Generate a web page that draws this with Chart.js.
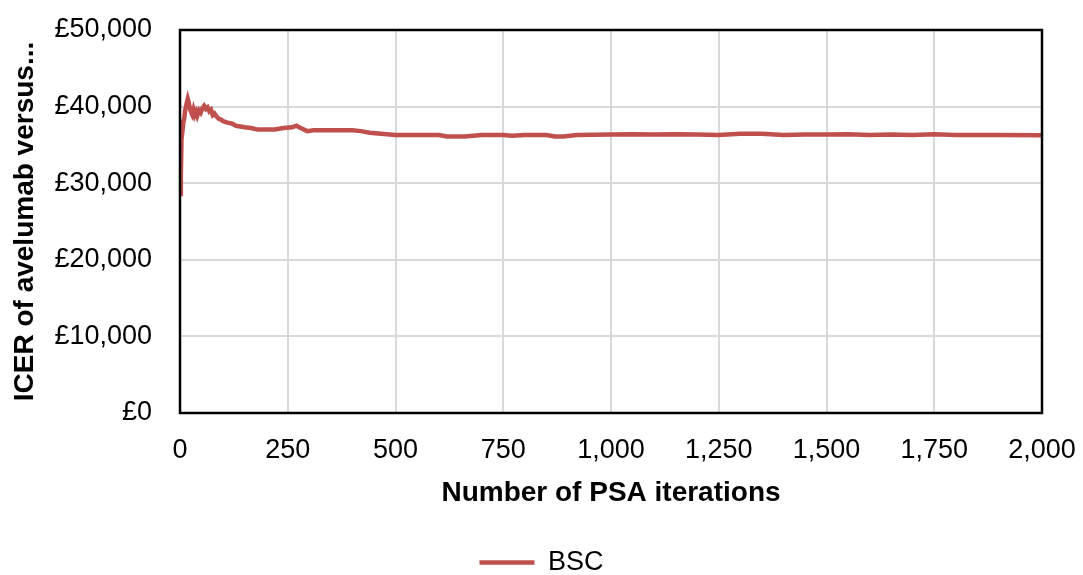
<!DOCTYPE html>
<html>
<head>
<meta charset="utf-8">
<script src="https://cdn.jsdelivr.net/npm/chart.js@4.4.0/dist/chart.umd.min.js"></script>
<style>
  html, body { margin: 0; padding: 0; background: #fff; }
  canvas { display: block; }
</style>
</head>
<body>
<canvas id="c" width="1083" height="575"></canvas>
<script>
// Data
const iterations = [1, 2, 4, 6, 8, 10, 12, 15, 18, 20, 22, 25, 28, 31, 34, 37, 40, 44, 48, 52, 56, 60, 64, 68, 72, 76, 80, 85, 90, 95, 100, 110, 120, 130, 140, 150, 165, 180, 200, 220, 240, 260, 270, 280, 295, 310, 340, 370, 400, 420, 440, 460, 480, 500, 550, 600, 620, 660, 680, 700, 750, 770, 800, 850, 870, 890, 920, 1000, 1050, 1100, 1150, 1200, 1250, 1300, 1350, 1400, 1450, 1500, 1550, 1600, 1650, 1700, 1750, 1800, 1900, 2000];
const icerBSC = [28600, 31000, 37300, 37000, 38000, 38500, 39500, 40300, 41000, 40600, 40000, 39400, 39000, 39600, 38900, 39300, 38800, 39500, 39200, 39800, 40100, 39700, 39900, 39400, 39600, 38900, 39100, 38700, 38400, 38300, 38100, 37900, 37800, 37500, 37400, 37300, 37200, 37000, 37000, 37000, 37200, 37300, 37500, 37200, 36800, 36900, 36900, 36900, 36900, 36800, 36600, 36500, 36400, 36300, 36300, 36300, 36100, 36100, 36200, 36300, 36300, 36200, 36300, 36300, 36100, 36100, 36300, 36350, 36400, 36350, 36400, 36350, 36300, 36450, 36450, 36300, 36350, 36350, 36400, 36300, 36350, 36300, 36400, 36300, 36300, 36250];
const seriesName = 'BSC';
const xTicks = [0, 250, 500, 750, 1000, 1250, 1500, 1750, 2000];
const yTicks = [0, 10000, 20000, 30000, 40000, 50000];
const xTitle = 'Number of PSA iterations';
const yTitle = 'ICER of avelumab versus...';

const FONT = "'Liberation Sans', Arial, sans-serif";
const RED = '#C0504D';

const frame = {
  id: 'frame',
  afterDatasetsDraw(chart) {
    const a = chart.chartArea, ctx = chart.ctx;
    ctx.save();
    ctx.strokeStyle = '#000';
    ctx.lineWidth = 2.5;
    ctx.strokeRect(a.left, a.top, a.right - a.left, a.bottom - a.top);
    ctx.restore();
  }
};

new Chart(document.getElementById('c'), {
  type: 'line',
  data: {
    datasets: [{
      label: seriesName,
      data: iterations.map((x, i) => ({ x: x, y: icerBSC[i] })),
      borderColor: RED,
      backgroundColor: RED,
      borderWidth: 4.5,
      pointRadius: 0,
      pointStyle: 'line',
      tension: 0,
      fill: false
    }]
  },
  options: {
    responsive: false,
    animation: false,
    devicePixelRatio: 1,
    layout: { padding: { top: 30, right: 0, bottom: -11, left: 0 } },
    plugins: {
      tooltip: { enabled: false },
      legend: {
        position: 'bottom',
        labels: {
          usePointStyle: true,
          pointStyleWidth: 55,
          padding: 39,
          color: '#000',
          font: { family: FONT, size: 27 }
        }
      }
    },
    scales: {
      x: {
        type: 'linear',
        min: 0, max: 2000,
        afterFit: s => { s.height = 97; s.paddingLeft = 0; s.paddingRight = 41; },
        afterBuildTicks: s => { s.ticks = xTicks.map(v => ({ value: v })); },
        grid: { color: '#D9D9D9', lineWidth: 2, drawTicks: false },
        border: { display: false },
        ticks: {
          padding: 21,
          color: '#000',
          font: { family: FONT, size: 27 },
          maxRotation: 0,
          callback: v => v.toLocaleString('en-US')
        },
        title: {
          display: true,
          text: xTitle,
          color: '#000',
          padding: { top: 0, bottom: 0 },
          font: { family: FONT, size: 28, weight: 'bold' }
        }
      },
      y: {
        type: 'linear',
        min: 0, max: 50000,
        afterFit: s => { s.width = 180; s.paddingTop = 0; s.paddingBottom = 0; },
        afterBuildTicks: s => { s.ticks = yTicks.map(v => ({ value: v })); },
        grid: { color: '#D9D9D9', lineWidth: 2, drawTicks: false },
        border: { display: false },
        ticks: {
          padding: 28,
          color: '#000',
          font: { family: FONT, size: 27 },
          callback: v => '£' + v.toLocaleString('en-US')
        },
        title: {
          display: true,
          text: yTitle,
          color: '#000',
          padding: { top: 8, bottom: 0 },
          font: { family: FONT, size: 28, weight: 'bold' }
        }
      }
    }
  },
  plugins: [frame]
});
</script>
</body>
</html>
